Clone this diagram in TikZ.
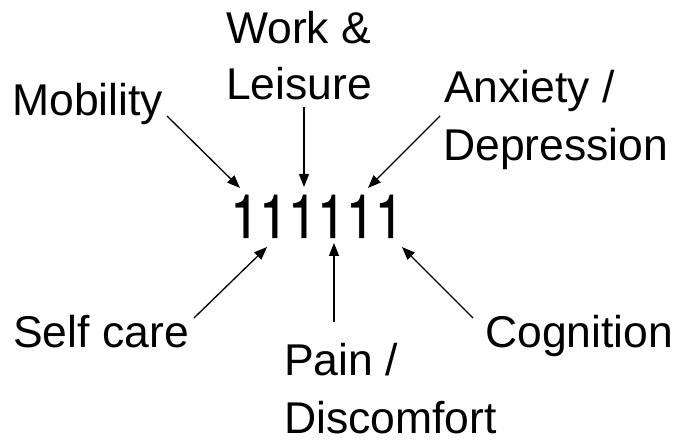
\documentclass[tikz,border=0pt]{standalone}
\usepackage{fontspec}
\setmainfont{Liberation Sans}
\newfontfamily\numfont[FakeBold=0.6]{TeX Gyre Heros}
\usetikzlibrary{arrows.meta}
\begin{document}
\begin{tikzpicture}[x=1pt,y=-1pt,
  lbl/.style={anchor=base west,inner sep=0pt,font=\fontsize{44.5}{57}\selectfont},
  num/.style={anchor=base,inner sep=0pt,font=\numfont\fontsize{52}{62}\selectfont},
  conn/.style={line width=1.3pt,-{Triangle[length=13pt,width=10pt]}}]
\useasboundingbox (0,0) rectangle (673,441);
\node[num] (n) at (317,238) {\scalebox{1}[1.17]{111111}};
\node[lbl] (mob) at (12,116) {Mobility};
\node[lbl] (work) at (226,44) {Work \&};
\node[lbl] (leis) at (226,100) {Leisure};
\node[lbl] (anx) at (444,103) {Anxiety /};
\node[lbl] (dep) at (443,161) {Depression};
\node[lbl] (self) at (13,348) {Self care};
\node[lbl] (cog) at (485,348) {Cognition};
\node[lbl] (pain) at (284,375) {Pain /};
\node[lbl] (disc) at (284,433) {Discomfort};
\coordinate (mobT) at (167,116);
\coordinate (mobH) at (240,188);
\coordinate (workT) at (304,107);
\coordinate (workH) at (304,187);
\coordinate (anxT) at (440,116);
\coordinate (anxH) at (368,188);
\coordinate (selfT) at (194,318);
\coordinate (selfH) at (267,247);
\coordinate (painT) at (334,322);
\coordinate (painH) at (334,243);
\coordinate (cogT) at (473,318);
\coordinate (cogH) at (402,247);
\draw[conn] (mobT) -- (mobH);
\draw[conn] (workT) -- (workH);
\draw[conn] (anxT) -- (anxH);
\draw[conn] (selfT) -- (selfH);
\draw[conn] (painT) -- (painH);
\draw[conn] (cogT) -- (cogH);
\end{tikzpicture}
\end{document}
